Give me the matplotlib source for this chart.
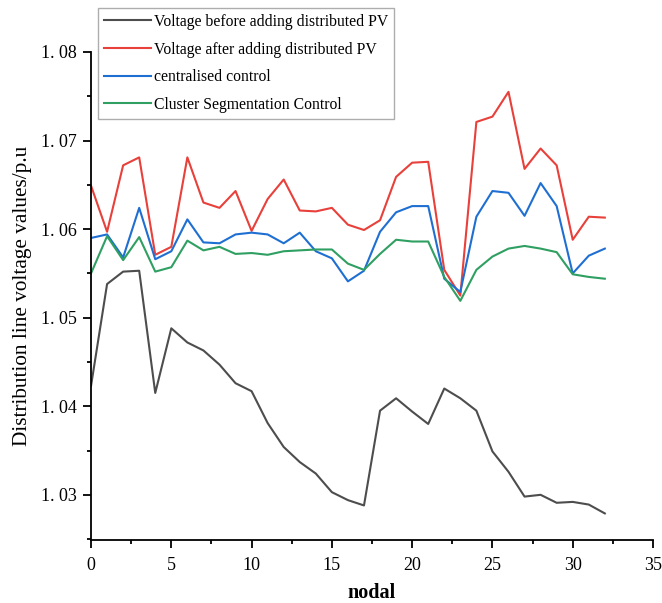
import matplotlib
matplotlib.use("Agg")
import matplotlib.pyplot as plt
from matplotlib.ticker import MultipleLocator, FuncFormatter

nodes = list(range(33))
before_pv = [1.0423, 1.0538, 1.0552, 1.0553, 1.0415, 1.0488, 1.0472, 1.0463, 1.0447, 1.0426,
             1.0417, 1.0381, 1.0354, 1.0337, 1.0324, 1.0303, 1.0294, 1.0288, 1.0395, 1.0409,
             1.0394, 1.0380, 1.0420, 1.0409, 1.0395, 1.0349, 1.0326, 1.0298, 1.0300, 1.0291,
             1.0292, 1.0289, 1.0279]
after_pv = [1.0649, 1.0597, 1.0672, 1.0681, 1.0571, 1.0580, 1.0681, 1.0630, 1.0624, 1.0643,
            1.0598, 1.0634, 1.0656, 1.0621, 1.0620, 1.0624, 1.0605, 1.0599, 1.0610, 1.0659,
            1.0675, 1.0676, 1.0554, 1.0525, 1.0721, 1.0727, 1.0755, 1.0668, 1.0691, 1.0672,
            1.0588, 1.0614, 1.0613]
centralised = [1.0590, 1.0594, 1.0568, 1.0624, 1.0566, 1.0575, 1.0611, 1.0585, 1.0584, 1.0594,
               1.0596, 1.0594, 1.0584, 1.0596, 1.0575, 1.0567, 1.0541, 1.0553, 1.0597, 1.0619,
               1.0626, 1.0626, 1.0544, 1.0529, 1.0614, 1.0643, 1.0641, 1.0615, 1.0652, 1.0626,
               1.0550, 1.0570, 1.0578]
cluster = [1.0550, 1.0592, 1.0565, 1.0591, 1.0552, 1.0557, 1.0587, 1.0576, 1.0580, 1.0572,
           1.0573, 1.0571, 1.0575, 1.0576, 1.0577, 1.0577, 1.0561, 1.0554, 1.0572, 1.0588,
           1.0586, 1.0586, 1.0546, 1.0519, 1.0554, 1.0569, 1.0578, 1.0581, 1.0578, 1.0574,
           1.0549, 1.0546, 1.0544]

labels = ["Voltage before adding distributed PV",
          "Voltage after adding distributed PV",
          "centralised control",
          "Cluster Segmentation Control"]

plt.rcParams['font.family'] = ['Liberation Serif', 'DejaVu Serif']

fig = plt.figure(figsize=(6.62, 6.03), dpi=100)
ax = fig.add_axes([0.1375, 0.1045, 0.8489, 0.8093])

lw = 1.5
ax.plot(nodes, before_pv, color='#4d4d4d', lw=lw, label=labels[0])
ax.plot(nodes, after_pv, color='#e8403a', lw=lw, label=labels[1])
ax.plot(nodes, centralised, color='#1f6fd2', lw=lw, label=labels[2])
ax.plot(nodes, cluster, color='#2f9f62', lw=lw, label=labels[3])

ax.set_xlim(0, 35)
ax.set_ylim(1.0249, 1.08)
ax.xaxis.set_major_locator(MultipleLocator(5))
ax.xaxis.set_minor_locator(MultipleLocator(2.5))
ax.yaxis.set_major_locator(MultipleLocator(0.01))
ax.yaxis.set_minor_locator(MultipleLocator(0.005))
ax.yaxis.set_major_formatter(FuncFormatter(lambda v, p: ("%.2f" % v).replace('.', '. ')))

for s in ['top', 'right']:
    ax.spines[s].set_visible(False)
for s in ['left', 'bottom']:
    ax.spines[s].set_linewidth(1.3)

ax.tick_params(which='major', direction='out', length=5.5, width=1.3, labelsize=13)
ax.tick_params(which='minor', direction='out', length=3, width=1.3)
ax.tick_params(axis='x', which='major', pad=6.5)
ax.tick_params(axis='y', which='major', pad=4.5)

ax.set_xlabel('nodal', fontsize=14.5, fontweight='bold', labelpad=7)
ax.set_ylabel('Distribution line voltage values/p.u', fontsize=15.3, labelpad=7)

leg = fig.legend(loc='upper left', bbox_to_anchor=(0.148, 0.9867), fontsize=11.3,
                 frameon=True, fancybox=False, borderpad=0.38, labelspacing=0.74,
                 handlelength=3.0, handletextpad=0.2, borderaxespad=0)
leg.get_frame().set_edgecolor('#999999')
leg.get_frame().set_linewidth(1.0)

fig.savefig('out.png', dpi=100)
